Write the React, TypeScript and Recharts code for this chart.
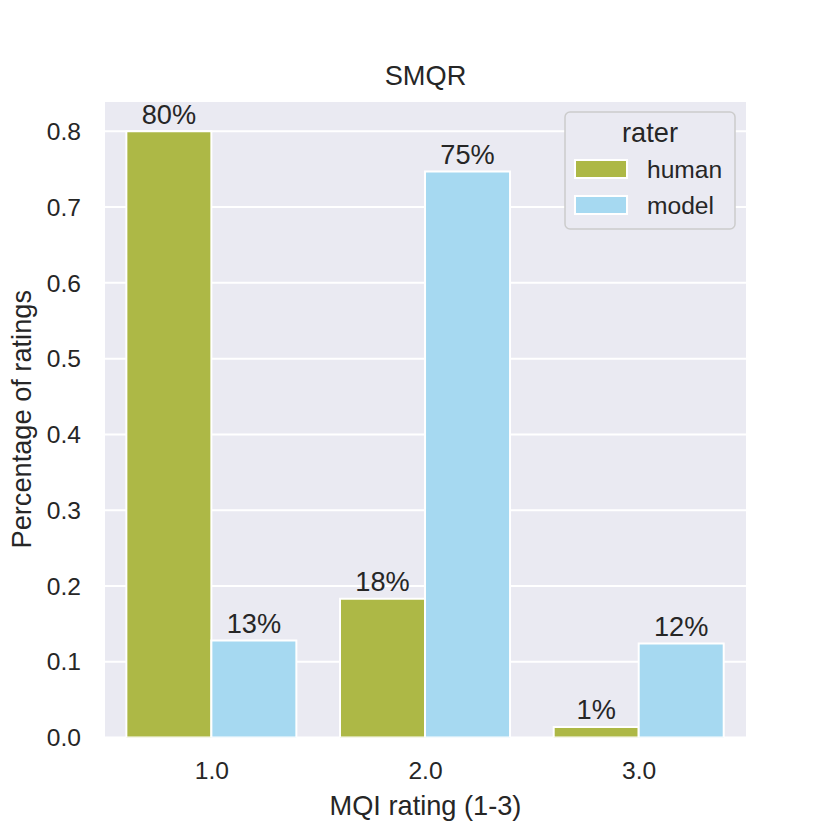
import React from 'react';
import { BarChart, Bar, XAxis, YAxis, CartesianGrid, LabelList, Legend, Label, Customized } from 'recharts';

const CATEGORIES = ['1.0', '2.0', '3.0'];
const HUMAN = [0.8, 0.183, 0.014];
const MODEL = [0.128, 0.747, 0.124];
const Y_TICKS = [0, 0.1, 0.2, 0.3, 0.4, 0.5, 0.6, 0.7, 0.8];
const SERIES = [
  { key: 'human', name: 'human', color: '#adb846' },
  { key: 'model', name: 'model', color: '#a6d9f1' },
];

const data = CATEGORIES.map((c, i) => ({ cat: c, human: HUMAN[i], model: MODEL[i] }));

const FONT = '"Liberation Sans", Arial, Helvetica, sans-serif';
const TEXT = '#262626';
const BIG = 27.2;
const SMALL = 24.6;

const pct = (v: any) => `${Math.round(Number(v) * 100)}%`;

const LegendBox = () => (
  <svg width={172} height={119} style={{ display: 'block' }}>
    <rect x={1} y={1} width={170} height={117} rx={5} ry={5} fill="#EAEAF2" stroke="#cccccc" strokeWidth={1.5} />
    <text x={86} y={31} textAnchor="middle" fontFamily={FONT} fontSize={BIG} fill={TEXT}>rater</text>
    {SERIES.map((s, i) => (
      <g key={s.key}>
        <rect x={11} y={49 + i * 36} width={52} height={18} fill={s.color} stroke="#fff" strokeWidth={2} />
        <text x={83} y={67 + i * 36} fontFamily={FONT} fontSize={SMALL} fill={TEXT}>{s.name}</text>
      </g>
    ))}
  </svg>
);

const Title = () => (
  <text x={425.5} y={85} textAnchor="middle" fontFamily={FONT} fontSize={BIG} fill={TEXT}>SMQR</text>
);

export default function App() {
  return (
    <div style={{ position: 'absolute', left: 0, top: 0, width: 830, height: 830, background: '#fff' }}>
      <BarChart
        width={830}
        height={830}
        data={data}
        margin={{ top: 101, right: 84, bottom: 22.5, left: 25 }}
        barCategoryGap="10%"
        barGap={0}
        style={{ fontFamily: FONT }}
      >
        <CartesianGrid vertical={false} stroke="#ffffff" strokeWidth={2} fill="#EAEAF2" fillOpacity={1} />
        <XAxis
          dataKey="cat"
          axisLine={false}
          tickLine={false}
          tickSize={0}
          tickMargin={24}
          height={70}
          interval={0}
          tick={{ fill: TEXT, fontSize: SMALL, fontFamily: FONT }}
        >
          <Label
            content={(props: any) => {
              const vb = props.viewBox || {};
              return (
                <text x={vb.x + vb.width / 2} y={vb.y + 77.5} textAnchor="middle" fontFamily={FONT} fontSize={BIG} fill={TEXT}>
                  MQI rating (1-3)
                </text>
              );
            }}
          />
        </XAxis>
        <YAxis
          type="number"
          domain={[0, 0.84]}
          ticks={Y_TICKS}
          allowDataOverflow
          axisLine={false}
          tickLine={false}
          tickSize={0}
          tickMargin={24}
          width={80}
          tickFormatter={(v: number) => v.toFixed(1)}
          tick={{ fill: TEXT, fontSize: SMALL, fontFamily: FONT }}
        >
          <Label
            content={(props: any) => {
              const vb = props.viewBox || {};
              const cx = vb.x + 6;
              const cy = vb.y + vb.height / 2;
              return (
                <text x={cx} y={cy} transform={`rotate(-90, ${cx}, ${cy})`} textAnchor="middle" fontFamily={FONT} fontSize={BIG} fill={TEXT}>
                  Percentage of ratings
                </text>
              );
            }}
          />
        </YAxis>
        {SERIES.map((s) => (
          <Bar key={s.key} dataKey={s.key} name={s.name} fill={s.color} stroke="#ffffff" strokeWidth={2} isAnimationActive={false}>
            <LabelList dataKey={s.key} position="top" offset={7.5} formatter={pct} fill={TEXT} fontSize={BIG} fontFamily={FONT} />
          </Bar>
        ))}
        <Legend
          layout="vertical"
          align="center"
          verticalAlign="middle"
          content={() => <LegendBox />}
          wrapperStyle={{ position: 'absolute', left: 564, top: 111, width: 172, height: 119, right: 'auto', bottom: 'auto' }}
        />
        <Customized component={Title} />
      </BarChart>
    </div>
  );
}
